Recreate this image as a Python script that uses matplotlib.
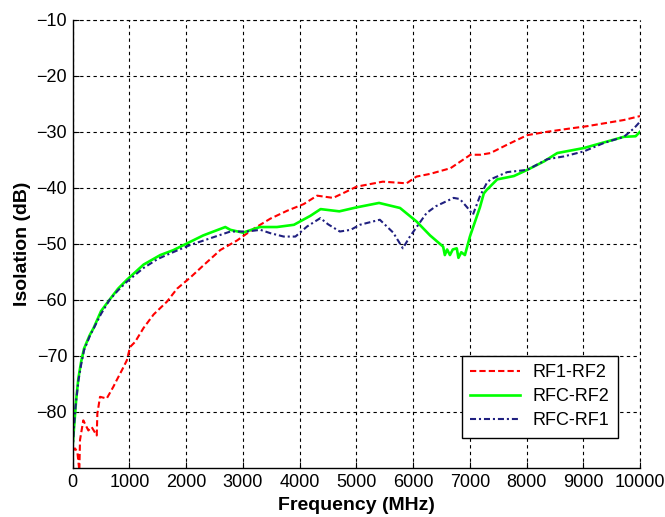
import matplotlib
matplotlib.use("Agg")
import matplotlib.pyplot as plt

# Frequency (MHz) / Isolation (dB)
rf1_rf2_x = [0, 40, 82, 117, 129, 187, 276, 335, 424, 435, 482, 600, 717, 777, 870, 954,
             1012, 1100, 1250, 1427, 1663, 1840, 2074, 2309, 2603, 2897, 3191, 3485, 3779,
             4073, 4308, 4590, 4800, 5003, 5467, 5885, 6060, 6307, 6660, 7012, 7188, 7364,
             7659, 8012, 8365, 8776, 9070, 9423, 9716, 10000]
rf1_rf2_y = [-87, -86.5, -87.1, -90.5, -85, -81.5, -83.3, -82.7, -84.2, -80.3, -77.3, -77.6,
             -75.5, -74.3, -72.5, -70.8, -68.4, -67.5, -65, -62.6, -60.3, -58, -56, -53.8,
             -51.1, -49.4, -47.3, -45.5, -44.1, -42.9, -41.4, -41.8, -40.8, -39.8, -38.9,
             -39.2, -38, -37.5, -36.5, -34.1, -34.1, -33.8, -32.3, -30.6, -30, -29.4, -29,
             -28.4, -27.9, -27.2]

rfc_rf2_x = [0, 30, 60, 100, 150, 200, 300, 370, 500, 663, 800, 957, 1250, 1545, 1780, 2000,
             2300, 2690, 2780, 3000, 3300, 3600, 3900, 4190, 4370, 4700, 5000, 5400, 5770,
             6060, 6300, 6530, 6560, 6600, 6650, 6700, 6770, 6800, 6850, 6914, 7002, 7178,
             7247, 7296, 7483, 7777, 8012, 8306, 8541, 9011, 9364, 9716, 9923, 10000]
rfc_rf2_y = [-86, -82, -78, -74, -71, -68.7, -66.3, -65, -62, -59.8, -58, -56.4, -53.7, -52,
             -51.1, -50, -48.5, -47, -47.5, -48, -47, -47, -46.6, -45, -43.8, -44.2, -43.5,
             -42.7, -43.6, -46, -48.5, -50.5, -52, -51, -52, -51, -50.8, -52.5, -51.5, -52,
             -48.7, -43.5, -41, -40.4, -38.5, -37.9, -36.8, -35.3, -33.8, -32.9, -31.9,
             -30.9, -30.8, -30]

rfc_rf1_x = [0, 20, 50, 100, 150, 200, 300, 400, 500, 650, 800, 950, 1250, 1500, 1721, 2074,
             2427, 2780, 3074, 3309, 3485, 3720, 3926, 4132, 4367, 4500, 4709, 4900, 5062,
             5414, 5650, 5820, 5944, 6238, 6400, 6714, 6825, 6954, 7055, 7178, 7296, 7364,
             7659, 8012, 8365, 8658, 9011, 9364, 9716, 9893, 10000]
rfc_rf1_y = [-87, -83, -79, -74.5, -71.5, -69, -66.5, -64.5, -62.5, -60, -58.3, -56.8, -54.3,
             -52.7, -51.7, -50.2, -49, -47.8, -47.8, -47.5, -48.1, -48.7, -48.7, -46.9, -45.4,
             -46.5, -47.8, -47.5, -46.6, -45.7, -48, -50.8, -48.7, -44.5, -43.3, -41.8, -42,
             -43.5, -44.8, -41.5, -39.2, -38.5, -37.2, -36.8, -34.9, -34.4, -33.5, -32, -30.9,
             -29.4, -28.2]

labels = ["RF1-RF2", "RFC-RF2", "RFC-RF1"]
xticks = list(range(0, 10001, 1000))
yticks = list(range(-80, -9, 10))

plt.rcParams['font.family'] = ['Liberation Sans', 'DejaVu Sans']

fig = plt.figure(figsize=(6.65, 5.17), dpi=100)
ax = fig.add_axes([0.1093, 0.0948, 0.8531, 0.8671])

ax.plot(rf1_rf2_x, rf1_rf2_y, color='#ff0000', lw=1.5, linestyle=(0, (3.0, 1.5)), label=labels[0])
ax.plot(rfc_rf2_x, rfc_rf2_y, color='#00ff00', lw=1.9, linestyle='-', label=labels[1])
ax.plot(rfc_rf1_x, rfc_rf1_y, color='#202080', lw=1.5, linestyle=(0, (2.9, 1.4, 1.0, 1.4)), label=labels[2])

ax.set_xlim(0, 10000)
ax.set_ylim(-90, -10)
ax.set_xticks(xticks)
ax.set_yticks(yticks)
ax.tick_params(direction='in', length=4, labelsize=13, colors='black', pad=4)
for s in ['top', 'right']:
    ax.spines[s].set_visible(False)
for s in ['left', 'bottom']:
    ax.spines[s].set_linewidth(1.0)

ax.grid(True, color='black', linestyle=(0, (3, 3)), linewidth=0.8)
ax.axhline(-10, color='black', linestyle=(0, (3, 3)), linewidth=0.8, clip_on=False)
ax.axvline(10000, color='black', linestyle=(0, (3, 3)), linewidth=0.8, clip_on=False)

ax.set_xlabel('Frequency (MHz)', fontsize=14, fontweight='bold', labelpad=5)
ax.set_ylabel('Isolation (dB)', fontsize=14, fontweight='bold', labelpad=4)

leg = ax.legend(loc='upper right', bbox_to_anchor=(0.961, 0.25), fontsize=13,
                handlelength=2.8, fancybox=False, framealpha=1, edgecolor='black',
                borderpad=0.45, labelspacing=0.4, borderaxespad=0, handletextpad=0.7)
leg.get_frame().set_linewidth(1.0)

fig.savefig('out.png', dpi=100)
